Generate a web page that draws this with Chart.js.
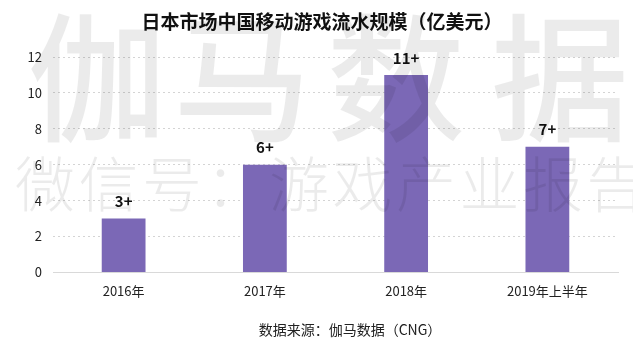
<!DOCTYPE html>
<html>
<head>
<meta charset="utf-8">
<script src="https://cdn.jsdelivr.net/npm/chart.js@4.4.0/dist/chart.umd.min.js"></script>
<style>
  html, body { margin: 0; padding: 0; background: #fff; }
  #wrap { width: 633px; height: 353px; position: relative; }
</style>
</head>
<body>
<div id="wrap"><canvas id="barChart"></canvas></div>
<script>
// chart data
const categories = ['2016年', '2017年', '2018年', '2019年上半年'];
const revenue = [3, 6, 11, 7];
const valueLabels = ['3+', '6+', '11+', '7+'];
const yTicks = [0, 2, 4, 6, 8, 10, 12];

const titleText = '日本市场中国移动游戏流水规模（亿美元）';
const sourceText = '数据来源：伽马数据（CNG）';

const FONT = '"Noto Sans CJK SC", "Noto Sans", sans-serif';

// labels on top of the bars
const barLabels = {
    id: 'barLabels',
    afterDatasetsDraw(chart) {
        const ctx = chart.ctx;
        const meta = chart.getDatasetMeta(0);
        ctx.save();
        ctx.font = 'bold 15px ' + FONT;
        ctx.fillStyle = '#111';
        ctx.textAlign = 'center';
        ctx.textBaseline = 'middle';
        meta.data.forEach((bar, i) => {
            ctx.fillText(valueLabels[i], bar.x, bar.y - 17);
        });
        ctx.restore();
    }
};

// title, source line and the watermark
const extras = {
    id: 'extras',
    afterDraw(chart) {
        const ctx = chart.ctx;
        ctx.save();
        ctx.fillStyle = '#111';
        ctx.textAlign = 'center';
        ctx.textBaseline = 'middle';
        ctx.font = 'bold 19px ' + FONT;
        ctx.fillText(titleText, 322, 22);
        ctx.font = '14px ' + FONT;
        ctx.fillStyle = '#222';
        ctx.fillText(sourceText, 350, 330);

        // watermark
        ctx.fillStyle = 'rgba(0,0,0,0.08)';
        ctx.font = '500 138px ' + FONT;
        const big = ['伽', '马', '数', '据'];
        const bigX = [97, 242, 396, 560];
        big.forEach((c, i) => ctx.fillText(c, bigX[i], 78));
        ctx.font = '300 60px ' + FONT;
        const small = '微信号：游戏产业报告'.split('');
        small.forEach((c, i) => ctx.fillText(c, 45 + i * 63.5, 184));
        ctx.restore();
    }
};

new Chart(document.getElementById('barChart').getContext('2d'), {
    type: 'bar',
    data: {
        labels: categories,
        datasets: [{
            data: revenue,
            backgroundColor: '#7b68b6',
            borderWidth: 0,
            barPercentage: 0.31,
            categoryPercentage: 1
        }]
    },
    options: {
        responsive: true,
        maintainAspectRatio: false,
        animation: false,
        layout: {
            padding: { top: 57, right: 15, bottom: 43, left: 0 }
        },
        plugins: {
            legend: { display: false },
            tooltip: { enabled: false },
            title: { display: false }
        },
        scales: {
            x: {
                grid: { display: false, drawTicks: false },
                border: { display: true, color: '#d9d9d9', width: 1 },
                ticks: {
                    color: '#222',
                    font: { family: FONT, size: 13 },
                    padding: 11
                }
            },
            y: {
                min: 0,
                max: 12,
                afterBuildTicks(scale) {
                    scale.ticks = yTicks.map(v => ({ value: v }));
                },
                afterFit(scale) {
                    scale.width = 53;
                },
                grid: {
                    drawTicks: false,
                    color: ctx => ctx.tick.value === 0 ? 'rgba(0,0,0,0)' : '#d4d4d4',
                    lineWidth: 1
                },
                border: { display: false, dash: [2, 3] },
                ticks: {
                    color: '#222',
                    font: { family: FONT, size: 13 },
                    padding: 11
                }
            }
        }
    },
    plugins: [barLabels, extras]
});
</script>
</body>
</html>
